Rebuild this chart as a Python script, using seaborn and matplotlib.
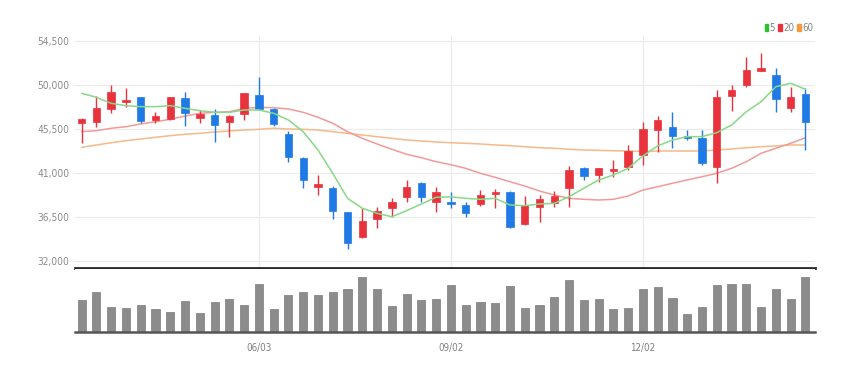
import numpy as np
import pandas as pd
import matplotlib
matplotlib.use("Agg")
import matplotlib.pyplot as plt
import seaborn as sns
from matplotlib.patches import Patch
from matplotlib import font_manager as fm

# ---------------- data (weekly candles) ----------------
opens = [46100, 46200, 47500, 48300, 48800, 46400, 46500, 48650, 46600, 46950,
         46200, 47050, 49000, 47600, 45000, 42550, 39550, 39450, 37000, 34500,
         36250, 37400, 38500, 39950, 38050, 38000, 37750, 37800, 38900, 39100,
         35800, 37500, 37900, 39450, 41500, 40800, 41200, 41600, 42850, 45450,
         45700, 44800, 44550, 41600, 48900, 50000, 51450, 51050, 47700, 49100]
highs = [46600, 48900, 50000, 49650, 48800, 47250, 48800, 49300, 47450, 47500,
         46900, 49150, 50850, 47700, 45350, 42650, 40800, 39650, 37000, 37400,
         37550, 38400, 40300, 40100, 39600, 39100, 38050, 39250, 39350, 39150,
         38600, 38750, 39200, 41700, 41650, 41550, 42350, 43850, 46250, 46850,
         47250, 45450, 45400, 49500, 50000, 52900, 53300, 51700, 49750, 49650]
lows = [44050, 45750, 47100, 47800, 46150, 46100, 46400, 45850, 46100, 44200,
        44700, 46400, 47450, 45850, 42150, 39500, 38800, 36250, 33200, 34400,
        35350, 36550, 38050, 38050, 37050, 37400, 36550, 37650, 37400, 35350,
        35700, 36000, 37550, 37500, 40300, 40100, 40600, 41300, 41800, 43200,
        43550, 44400, 41800, 40000, 47350, 49850, 51400, 47250, 47200, 43350]
closes = [46550, 47700, 49300, 48450, 46300, 46850, 48800, 47100, 47000, 45900,
          46850, 49150, 47600, 46000, 42600, 40300, 39850, 37150, 33850, 36100,
          37100, 38050, 39600, 38500, 39050, 37800, 36950, 38800, 39100, 35450,
          37750, 38350, 38700, 41300, 40700, 41500, 41400, 43300, 45500, 46400,
          44800, 44550, 42000, 48750, 49500, 51550, 51700, 48550, 48750, 46250]
ma5 = [49150, 48750, 48130, 47890, 47790, 47790, 47890, 47620, 47380, 47210,
       47210, 47450, 47450, 47110, 46420, 45230, 43360, 40970, 38410, 37390,
       36880, 36530, 37150, 37830, 38520, 38560, 38410, 38310, 38410, 37730,
       37660, 37830, 37900, 38580, 39440, 40290, 40800, 41480, 42750, 43770,
       44380, 44720, 44720, 45130, 45910, 47270, 48300, 49830, 50180, 49570]
ma20 = [45230, 45330, 45580, 45740, 46020, 46250, 46500, 46830, 47110, 47210,
        47270, 47620, 47720, 47680, 47550, 47210, 46700, 46090, 45230, 44550,
        43970, 43430, 42920, 42570, 42160, 41850, 41480, 40970, 40560, 40110,
        39670, 39160, 38750, 38410, 38310, 38240, 38310, 38650, 39260, 39600,
        39950, 40290, 40620, 40970, 41480, 42160, 43020, 43530, 44040, 44610]
ma60 = [43630, 43870, 44100, 44310, 44480, 44660, 44820, 44960, 45060, 45200,
        45300, 45400, 45470, 45580, 45500, 45470, 45400, 45230, 45060, 44890,
        44720, 44550, 44380, 44280, 44170, 44100, 44040, 43970, 43870, 43800,
        43690, 43590, 43530, 43430, 43360, 43320, 43280, 43250, 43220, 43250,
        43250, 43250, 43250, 43360, 43460, 43590, 43690, 43770, 43870, 43870]
volume = [317, 400, 250, 240, 267, 233, 200, 310, 190, 300,
          333, 267, 483, 227, 367, 400, 367, 400, 433, 550,
          433, 260, 383, 317, 333, 467, 267, 300, 293, 457,
          240, 267, 350, 517, 317, 333, 227, 240, 427, 450,
          343, 183, 250, 467, 477, 477, 250, 433, 333, 550]
start_date = "2019-03-11"
tick_labels = ["06/03", "09/02", "12/02"]
legend_labels = ["5", "20", "60"]
yticks = [32000, 36500, 41000, 45500, 50000, 54500]

# ---------------- styling ----------------
UP = "#e8323c"
DOWN = "#1f7ae6"
C5, C20, C60 = "#86d986", "#f29a9a", "#f5b98a"

sns.set_theme(style="white")
plt.rcParams["font.family"] = ["Liberation Sans", "DejaVu Sans"]

# pick a narrow / condensed font if one is installed
narrow = None
for f in fm.fontManager.ttflist:
    nm = f.name.lower()
    if ("narrow" in nm or "condensed" in nm or
            f.stretch in ("condensed", "semi-condensed", "extra-condensed", 600, 700, 300, 400)) \
            and f.style == "normal" and str(f.weight) in ("400", "normal", "regular", "book"):
        if "liberation" in nm:
            narrow = f
            break
        if narrow is None:
            narrow = f
if narrow is not None:
    def tfont(size):
        return fm.FontProperties(fname=narrow.fname, size=size)
    ysz, xsz, lsz = 7.3, 7.0, 7.0
else:
    def tfont(size):
        return fm.FontProperties(family="Liberation Sans", size=size)
    ysz, xsz, lsz = 6.4, 6.2, 6.4

n = len(closes)
idx = np.arange(n)
dates = pd.date_range(start_date, periods=n, freq="7D")
date_labels = list(dates.strftime("%m/%d"))
tick_pos = [i for i, d in enumerate(date_labels) if d in tick_labels]
df = pd.DataFrame({"idx": idx, "open": opens, "high": highs, "low": lows,
                   "close": closes, "ma5": ma5, "ma20": ma20, "ma60": ma60,
                   "volume": volume})

W, H = 867, 373
fig = plt.figure(figsize=(W / 100, H / 100), dpi=100)
ax = fig.add_axes([75 / W, 1 - 268 / H, 740 / W, 232 / H])
axv = fig.add_axes([75 / W, 1 - 332 / H, 740 / W, 63 / H])

# candles
up = df["close"] >= df["open"]
colors = np.where(up, UP, DOWN)
ax.vlines(df["idx"], df["low"], df["high"], colors=colors, lw=1.0, zorder=3)
body_bottom = np.minimum(df["open"], df["close"])
body_h = np.maximum(np.abs(df["close"] - df["open"]), 60)
ax.bar(df["idx"], body_h, bottom=body_bottom, width=0.5, color=colors,
       edgecolor=colors, lw=0.5, zorder=4)

# moving averages
sns.lineplot(data=df, x="idx", y="ma60", ax=ax, color=C60, lw=1.1, zorder=2)
sns.lineplot(data=df, x="idx", y="ma20", ax=ax, color=C20, lw=1.1, zorder=2)
sns.lineplot(data=df, x="idx", y="ma5", ax=ax, color=C5, lw=1.1, zorder=5)

# volume
sns.barplot(data=df, x="idx", y="volume", ax=axv, native_scale=True,
            color="#8c8c8c", saturation=1, width=0.55, errorbar=None,
            edgecolor="#7a7a7a", lw=0.5)

xlim = (-0.45, 49.65)
ax.set_xlim(*xlim)
axv.set_xlim(*xlim)
ax.set_ylim(31284, 55018)
axv.set_ylim(0, 630)

# price axis formatting
ax.set_yticks(yticks)
ax.set_yticklabels([f"{v:,}" for v in yticks])
for t in ax.get_yticklabels():
    t.set_fontproperties(tfont(ysz))
    t.set_color("#8a8a8a")
ax.tick_params(axis="y", length=0, pad=4)
ax.set_xticks(tick_pos)
ax.tick_params(axis="x", length=0, labelbottom=False)
ax.grid(True, axis="both", color="#ebebeb", lw=0.8)
ax.set_axisbelow(True)
for s in ["top", "left", "right"]:
    ax.spines[s].set_visible(False)
ax.spines["bottom"].set_color("#2a2a2a")
ax.spines["bottom"].set_linewidth(2.0)
ax.set_xlabel("")
ax.set_ylabel("")

# volume axis formatting
axv.set_yticks([])
axv.set_xticks(tick_pos)
axv.set_xticklabels(tick_labels)
for t in axv.get_xticklabels():
    t.set_fontproperties(tfont(xsz))
    t.set_color("#808080")
axv.tick_params(axis="x", length=3, width=0.8, color="#555555", pad=5)
for s in ["top", "left", "right"]:
    axv.spines[s].set_visible(False)
axv.spines["bottom"].set_color("#555555")
axv.spines["bottom"].set_linewidth(1.8)
axv.set_xlabel("")
axv.set_ylabel("")

# legend
handles = [Patch(color="#2ec02e"), Patch(color=UP), Patch(color="#f59a3a")]
fig.legend(handles, legend_labels, loc="upper right",
           bbox_to_anchor=(817 / W, 1 - 19 / H), ncol=3, frameon=False,
           prop=tfont(lsz), handlelength=0.35, handleheight=0.8,
           handletextpad=0.15, columnspacing=0.3, labelcolor="#808080",
           borderaxespad=0)

fig.savefig("out.png", dpi=100)
